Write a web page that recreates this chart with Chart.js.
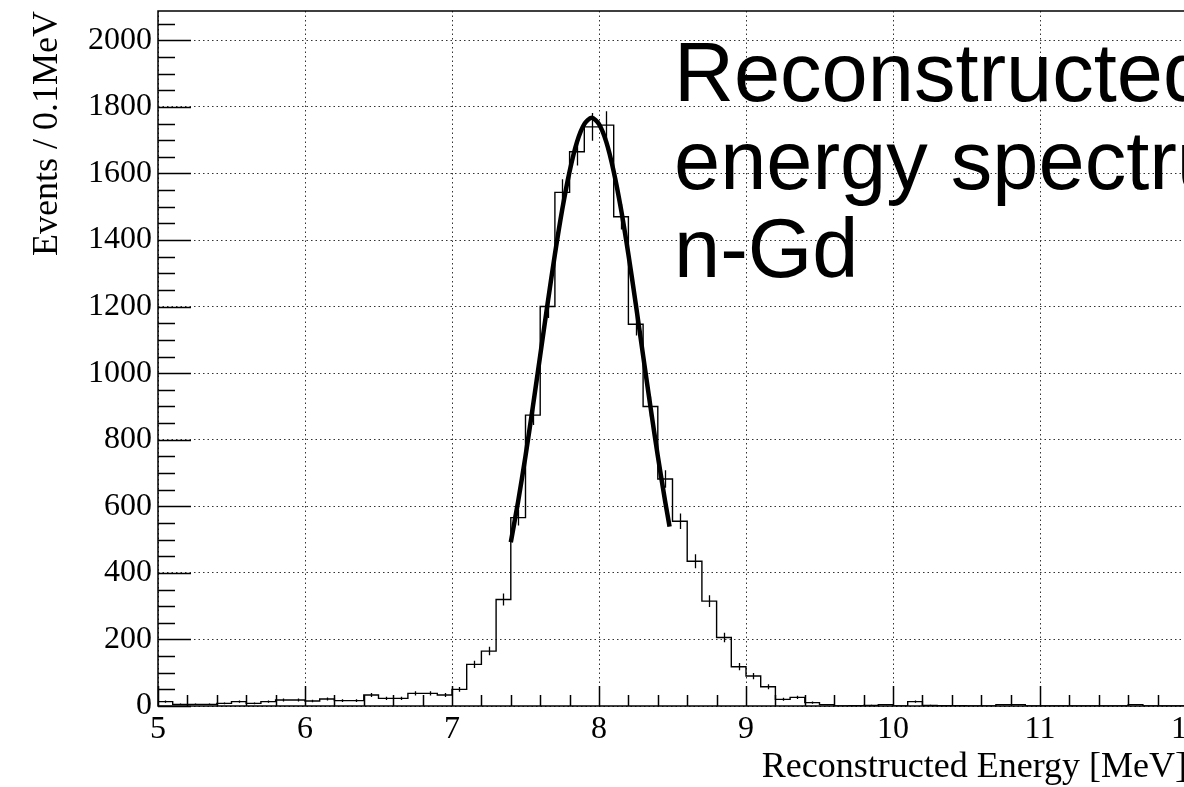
<!DOCTYPE html>
<html>
<head>
<meta charset="utf-8">
<title>Reconstructed energy spectrum n-Gd</title>
<script src="https://cdn.jsdelivr.net/npm/chart.js@4.4.1/dist/chart.umd.min.js"></script>
<style>
	html, body { margin: 0; padding: 0; overflow: hidden; background: #fff; }
</style>
</head>
<body>
<canvas id="spectrum" width="1300" height="787"></canvas>
<script>
// histogram bins: 0.1 MeV wide, starting at 5 MeV
const binStart = 5.0;
const binWidth = 0.1;

const counts = [
	13, 5, 5, 5, 8, 13, 8, 13, 18, 18,
	15, 21, 16, 16, 33, 23, 23, 38, 38, 33,
	50, 125, 165, 320, 566, 874, 1200, 1543, 1665, 1740,
	1745, 1470, 1147, 900, 682, 555, 435, 315, 206, 118,
	90, 58, 20, 26, 10, 4, 0, 1, 2, 4,
	0, 13, 2, 1, 1, 0, 0, 4, 4, 0,
	0, 0, 0, 0, 0, 0, 4, 0, 0, 0
];

const errors = [
	3.6, 2.2, 2.2, 2.2, 2.8, 3.6, 2.8, 3.6, 4.2, 4.2,
	3.9, 4.6, 4, 4, 5.7, 4.8, 4.8, 6.2, 6.2, 5.7,
	7.1, 11.2, 12.8, 17.9, 23.8, 29.6, 34.6, 39.3, 40.8, 41.7,
	41.8, 38.3, 33.9, 30, 26.1, 23.6, 20.9, 17.7, 14.4, 10.9,
	9.5, 7.6, 4.5, 5.1, 3.2, 2, 0, 1, 1.4, 2,
	0, 3.6, 1.4, 1, 1, 0, 0, 2, 2, 0,
	0, 0, 0, 0, 0, 0, 2, 0, 0, 0
];

// gaussian fit curve
const fitEnergy = [7.40, 7.45, 7.50, 7.55, 7.60, 7.65, 7.70, 7.75, 7.80, 7.85, 7.90, 7.95,
	8.00, 8.05, 8.10, 8.15, 8.20, 8.25, 8.30, 8.35, 8.40, 8.45, 8.48];
const fitValues = [492, 615, 751, 899, 1053, 1208, 1357, 1492, 1606, 1694, 1748, 1767,
	1748, 1694, 1606, 1492, 1357, 1208, 1053, 899, 751, 615, 539];

const xTickValues = [5, 6, 7, 8, 9, 10, 11, 12];
const yTickValues = [0, 200, 400, 600, 800, 1000, 1200, 1400, 1600, 1800, 2000];

const xMin = 5, xMax = 12;
const yMin = 0, yMax = 2088;

const titleLines = ["Reconstructed", "energy spectrum", "n-Gd"];

const histPoints = counts.map((c, i) => ({ x: binStart + i * binWidth, y: c }));
histPoints.push({ x: binStart + counts.length * binWidth, y: counts[counts.length - 1] });

const fitPoints = fitEnergy.map((e, i) => ({ x: e, y: fitValues[i] }));

const serif = "'Liberation Serif', 'DejaVu Serif', serif";

// poisson error bars at bin centres
const errorBars = {
	id: "errorBars",
	beforeDatasetsDraw(chart) {
		const { ctx, scales: { x, y } } = chart;
		ctx.save();
		ctx.strokeStyle = "#000";
		ctx.lineWidth = 1.3;
		ctx.beginPath();
		counts.forEach((c, i) => {
			if (c <= 0) return;
			const px = Math.round(x.getPixelForValue(binStart + (i + 0.5) * binWidth)) + 0.5;
			ctx.moveTo(px, y.getPixelForValue(c - errors[i]));
			ctx.lineTo(px, y.getPixelForValue(c + errors[i]));
		});
		ctx.stroke();
		ctx.restore();
	}
};

// ROOT style frame with ticks pointing inwards, plus the overlaid title
const frameTicks = {
	id: "frameTicks",
	afterDraw(chart) {
		const { ctx, chartArea: a, scales: { x, y } } = chart;
		ctx.save();
		ctx.strokeStyle = "#000";
		ctx.lineWidth = 1.5;
		ctx.strokeRect(a.left, a.top, a.right - a.left, a.bottom - a.top);

		ctx.beginPath();
		for (let i = 0; i <= 35; i++) {
			const px = Math.round(x.getPixelForValue(xMin + i * 0.2)) + 0.5;
			const len = i % 5 === 0 ? 20 : 11;
			ctx.moveTo(px, a.bottom);
			ctx.lineTo(px, a.bottom - len);
		}
		for (let i = 0; i * 50 <= yMax; i++) {
			const py = Math.round(y.getPixelForValue(i * 50)) + 0.5;
			const len = i % 4 === 0 ? 33 : 17;
			ctx.moveTo(a.left, py);
			ctx.lineTo(a.left + len, py);
		}
		ctx.stroke();

		ctx.fillStyle = "#000";
		ctx.font = "83px 'Liberation Sans', Arial, sans-serif";
		ctx.textBaseline = "alphabetic";
		ctx.textAlign = "left";
		titleLines.forEach((line, i) => {
			ctx.fillText(line, 674, 101 + i * 88);
		});
		ctx.restore();
	}
};

new Chart(document.getElementById("spectrum"), {
	type: "line",
	data: {
		datasets: [
			{
				label: "fit",
				data: fitPoints,
				borderColor: "#000",
				borderWidth: 4.5,
				pointRadius: 0,
				tension: 0.3,
				fill: false
			},
			{
				label: "n-Gd",
				data: histPoints,
				borderColor: "#000",
				borderWidth: 1.4,
				pointRadius: 0,
				stepped: true,
				fill: false
			}
		]
	},
	options: {
		responsive: false,
		animation: false,
		layout: { padding: { left: 0, top: 11, right: 1300 - 1187, bottom: 0 } },
		plugins: {
			legend: { display: false },
			tooltip: { enabled: false }
		},
		scales: {
			x: {
				type: "linear",
				min: xMin,
				max: xMax,
				afterBuildTicks: (s) => { s.ticks = xTickValues.map((v) => ({ value: v })); },
				afterFit: (s) => {
					s.height = 81;
					s.paddingLeft = 0;
					s.paddingRight = 0;
				},
				grid: { color: "#333", lineWidth: 1, drawTicks: false },
				border: { display: false, dash: [1.5, 3] },
				ticks: {
					color: "#000",
					font: { family: serif, size: 32 },
					padding: 4,
					maxRotation: 0,
					autoSkip: false,
					callback: (v) => String(v)
				},
				title: {
					display: true,
					text: "Reconstructed Energy [MeV]",
					align: "end",
					color: "#000",
					font: { family: serif, size: 36, lineHeight: 1 },
					padding: { top: 0, bottom: 1 }
				}
			},
			y: {
				min: yMin,
				max: yMax,
				afterBuildTicks: (s) => { s.ticks = yTickValues.map((v) => ({ value: v })); },
				afterFit: (s) => {
					s.width = 158;
					s.paddingTop = 0;
					s.paddingBottom = 0;
				},
				grid: { color: "#333", lineWidth: 1, drawTicks: false },
				border: { display: false, dash: [1.5, 3] },
				ticks: {
					color: "#000",
					font: { family: serif, size: 32 },
					padding: 6,
					callback: (v) => String(v)
				},
				title: {
					display: true,
					text: "Events / 0.1MeV",
					align: "end",
					color: "#000",
					font: { family: serif, size: 36, lineHeight: 1 },
					padding: { top: 30, bottom: 0 }
				}
			}
		}
	},
	plugins: [errorBars, frameTicks]
});
</script>
</body>
</html>
